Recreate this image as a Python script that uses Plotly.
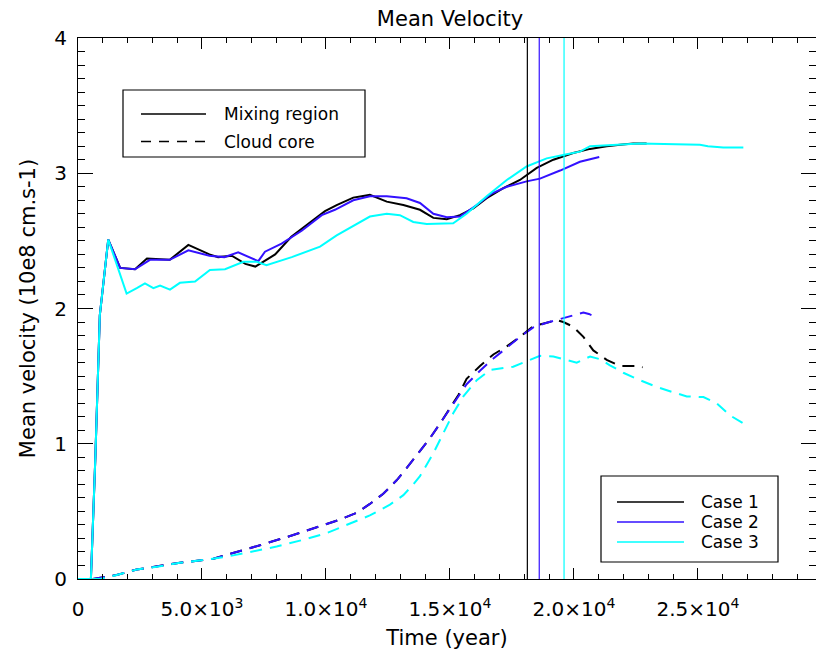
import plotly.graph_objects as go

# ---- data -----------------------------------------------------------------
# Case 1 : mixing region (solid) and cloud core (dashed)
t_case1_mix = [0, 520, 700, 880, 1220, 1700, 2300, 2780, 3700, 4450, 5300, 5650,
               6200, 6750, 7150, 7950, 8600, 9300, 9960, 10430, 11100, 11770,
               12450, 13120, 13790, 14330, 14870, 15400, 15940, 16480, 17150,
               17820, 18500, 19170, 19970, 20650, 21320, 21860, 22390, 22930]
v_case1_mix = [0, 0, 0.9, 1.95, 2.51, 2.30, 2.29, 2.37, 2.36, 2.47, 2.40, 2.38,
               2.39, 2.33, 2.31, 2.40, 2.53, 2.63, 2.72, 2.765, 2.82, 2.84,
               2.79, 2.765, 2.73, 2.67, 2.66, 2.69, 2.74, 2.815, 2.89,
               2.95, 3.04, 3.10, 3.15, 3.18, 3.20, 3.21, 3.22, 3.22]
t_case1_core = [600, 890, 1560, 2370, 3310, 4110, 5460, 6130, 7340, 8680, 9700,
                10570, 11240, 11770, 12310, 12850, 13250, 13720, 14190, 14600,
                15000, 15340, 15670, 16210, 16750, 17290, 17820, 18360, 18900,
                19300, 19570, 19970, 20380, 20780, 21320, 21860, 22660, 22770]
v_case1_core = [0, 0.01, 0.03, 0.07, 0.10, 0.12, 0.15, 0.185, 0.25, 0.325, 0.39,
                0.44, 0.49, 0.555, 0.63, 0.73, 0.82, 0.93, 1.04, 1.15,
                1.26, 1.36, 1.48, 1.575, 1.66, 1.72, 1.79, 1.87, 1.895,
                1.915, 1.90, 1.865, 1.79, 1.69, 1.62, 1.575, 1.575, 1.565]

# Case 2
t_case2_mix = [0, 520, 700, 880, 1220, 1700, 2300, 2900, 3700, 4450, 5300, 5900,
               6460, 6870, 7270, 7540, 8210, 9020, 9830, 10360, 11100, 11770,
               12450, 13250, 13790, 14330, 14870, 15400, 16080, 16680, 17290,
               18090, 18630, 19440, 20240, 21020]
v_case2_mix = [0, 0, 0.9, 1.95, 2.51, 2.30, 2.29, 2.36, 2.36, 2.43, 2.39, 2.38,
               2.415, 2.38, 2.35, 2.42, 2.48, 2.575, 2.69, 2.73, 2.80, 2.83,
               2.83, 2.815, 2.78, 2.70, 2.675, 2.68, 2.765, 2.85, 2.90,
               2.94, 2.96, 3.02, 3.085, 3.12]
t_case2_core = [600, 890, 1560, 2370, 3310, 4110, 5460, 6130, 7340, 8680, 9700,
                10570, 11240, 11770, 12310, 12850, 13250, 13720, 14190, 14600,
                15000, 15340, 15670, 16210, 16750, 17290, 17820, 18360, 18900,
                19300, 19840, 20380, 20600, 20910]
v_case2_core = [0, 0.01, 0.03, 0.07, 0.10, 0.12, 0.15, 0.185, 0.25, 0.325, 0.39,
                0.44, 0.49, 0.555, 0.63, 0.73, 0.82, 0.93, 1.04, 1.15,
                1.26, 1.35, 1.44, 1.54, 1.63, 1.71, 1.79, 1.86, 1.895,
                1.915, 1.945, 1.97, 1.96, 1.935]

# Case 3
t_case3_mix = [0, 520, 700, 880, 1220, 1960, 2370, 2700, 3040, 3310, 3710, 4110,
               4720, 5320, 5930, 6260, 6670, 7210, 7600, 8620, 9560, 9760,
               10430, 11100, 11770, 12450, 12980, 13520, 14060, 15130, 15670,
               16480, 17290, 18090, 18900, 19710, 20240, 20650, 21590, 22660,
               25080, 25400, 26020, 26830]
v_case3_mix = [0, 0, 0.9, 1.95, 2.51, 2.11, 2.15, 2.185, 2.15, 2.17, 2.14, 2.19,
               2.20, 2.285, 2.29, 2.315, 2.345, 2.345, 2.32, 2.38, 2.445, 2.457,
               2.54, 2.61, 2.68, 2.70, 2.69, 2.64, 2.625, 2.63, 2.70,
               2.83, 2.95, 3.05, 3.11, 3.14, 3.16, 3.20, 3.21, 3.22,
               3.21, 3.20, 3.19, 3.19]
t_case3_core = [600, 890, 1560, 2370, 3170, 4110, 5050, 6000, 6940, 8010, 9090,
                10030, 10970, 11770, 12580, 13120, 13520, 13790, 14330, 14730,
                15130, 15540, 16080, 16610, 17550, 18090, 18630, 19170, 19710,
                20110, 20650, 21050, 21450, 21990, 22660, 23340, 24010, 24550,
                25220, 25750, 26290, 26830]
v_case3_core = [0, 0.0, 0.03, 0.07, 0.09, 0.12, 0.14, 0.165, 0.20, 0.24, 0.29,
                0.34, 0.41, 0.47, 0.55, 0.62, 0.70, 0.76, 0.93, 1.08,
                1.225, 1.35, 1.47, 1.545, 1.57, 1.61, 1.65, 1.645, 1.62,
                1.60, 1.645, 1.625, 1.58, 1.525, 1.47, 1.42, 1.38, 1.35,
                1.345, 1.30, 1.21, 1.15]

# time marker of each case (vertical lines)
case_markers = [18120, 18600, 19600]

case_names = ["Case 1", "Case 2", "Case 3"]
case_colors = ["#000000", "#3311ff", "#00ffff"]
region_names = ["Mixing region", "Cloud core"]

x_tickvals = [0, 5000, 10000, 15000, 20000, 25000]
x_ticktext = ["0", "5.0×10<sup>3</sup>", "1.0×10<sup>4</sup>", "1.5×10<sup>4</sup>",
              "2.0×10<sup>4</sup>", "2.5×10<sup>4</sup>"]
y_tickvals = [0, 1, 2, 3, 4]

# ---- figure ---------------------------------------------------------------
W, H = 816, 652
L, R, T, B = 78, 0, 38, 73
FONT = "DejaVu Sans"

series = [
    (t_case1_mix, v_case1_mix, t_case1_core, v_case1_core),
    (t_case2_mix, v_case2_mix, t_case2_core, v_case2_core),
    (t_case3_mix, v_case3_mix, t_case3_core, v_case3_core),
]

fig = go.Figure()
for (tm, vm, tc, vc), name, color in zip(series, case_names, case_colors):
    fig.add_trace(go.Scatter(x=tm, y=vm, mode="lines", name=name,
                             line=dict(color=color, width=2), showlegend=False))
    fig.add_trace(go.Scatter(x=tc, y=vc, mode="lines", name=name,
                             line=dict(color=color, width=2, dash="12px,8px"),
                             showlegend=False))

for t, color in zip(case_markers, case_colors):
    fig.add_vline(x=t, line=dict(color=color, width=1.2))


def px_x(p):
    return (p - L) / (W - L - R)


def px_y(p):
    return (H - B - p) / (H - B - T)


def legend_box(x0, x1, y0, y1):
    fig.add_shape(type="rect", xref="paper", yref="paper",
                  x0=px_x(x0), x1=px_x(x1), y0=px_y(y1), y1=px_y(y0),
                  line=dict(color="black", width=1.2), fillcolor="white")


def legend_item(y, x_line0, x_line1, x_text, label, color, dash):
    yy = px_y(y)
    fig.add_shape(type="line", xref="paper", yref="paper",
                  x0=px_x(x_line0), x1=px_x(x_line1), y0=yy, y1=yy,
                  line=dict(color=color, width=1.5, dash=dash))
    fig.add_annotation(xref="paper", yref="paper", x=px_x(x_text), y=yy,
                       text=label, showarrow=False, xanchor="left",
                       yanchor="middle",
                       font=dict(family=FONT, size=17, color="black"))


# legend box: line styles
legend_box(123, 365, 90, 157)
for i, (label, dash) in enumerate(zip(region_names, ["solid", "10px,8px"])):
    legend_item(114 + i * 27.5, 141, 206, 222, label, "black", dash)

# legend box: cases
legend_box(601, 778, 476, 562)
for i, (label, color) in enumerate(zip(case_names, case_colors)):
    legend_item(502 + i * 20, 617, 684, 699, label, color, "solid")

axis_common = dict(showline=True, linecolor="black", linewidth=1.2,
                   mirror="allticks", ticks="inside", tickcolor="black",
                   tickwidth=1.2, showgrid=False, zeroline=False,
                   tickfont=dict(family=FONT, size=20, color="black"))

fig.update_layout(
    width=W, height=H,
    margin=dict(l=L, r=R, t=T, b=B, pad=0),
    paper_bgcolor="white", plot_bgcolor="white",
    font=dict(family=FONT, color="black"),
    title=dict(text="Mean Velocity", xref="container", yref="container",
               x=450 / W, xanchor="center", y=1 - 19 / H, yanchor="middle",
               font=dict(family=FONT, size=21, color="black")),
    xaxis=dict(range=[0, 29760], tickmode="array", tickvals=x_tickvals,
               ticktext=x_ticktext, ticklen=11, ticklabelstandoff=12,
               minor=dict(dtick=1000, tick0=0, ticklen=5, ticks="inside",
                          tickcolor="black", tickwidth=1.2, showgrid=False),
               title=dict(text="Time (year)", standoff=10,
                          font=dict(family=FONT, size=21, color="black")),
               **axis_common),
    yaxis=dict(range=[0, 4], tickmode="array", tickvals=y_tickvals, ticklen=15,
               ticklabelstandoff=6,
               minor=dict(dtick=0.1, tick0=0, ticklen=7, ticks="inside",
                          tickcolor="black", tickwidth=1.2, showgrid=False),
               title=dict(text="Mean velocity (10e8 cm.s-1)", standoff=12,
                          font=dict(family=FONT, size=21, color="black")),
               **axis_common),
    showlegend=False,
)

fig.write_html("out.html")
